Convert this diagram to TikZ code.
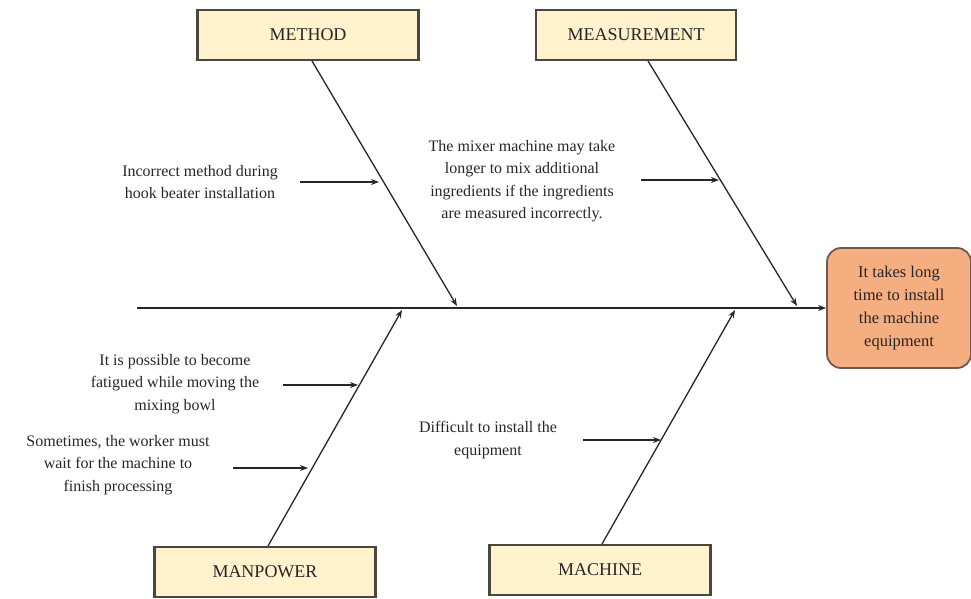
\documentclass[tikz,border=0pt]{standalone}
\usepackage{fontspec}
\setmainfont{Liberation Serif}
\usetikzlibrary{arrows.meta}
\definecolor{boxfill}{HTML}{FFF2CC}
\definecolor{boxline}{HTML}{4A4640}
\definecolor{effectfill}{HTML}{F4AE80}
\definecolor{effectline}{HTML}{6E5A4E}
\definecolor{txt}{HTML}{262626}
\begin{document}
\begin{tikzpicture}[x=1pt,y=-1pt,
  catbox/.style={draw=boxline,line width=2.2pt,fill=boxfill,minimum width=221pt,minimum height=50pt,inner sep=0pt,font=\fontsize{18}{20}\selectfont,text=txt},
  effect/.style={draw=effectline,line width=1.8pt,fill=effectfill,rounded corners=14pt,minimum width=144pt,minimum height=120pt,align=center,font=\fontsize{16.5}{23}\selectfont,text=txt},
  cause/.style={align=center,font=\fontsize{16}{22.5}\selectfont,text=txt,inner sep=0pt},
  bone/.style={draw=black!85,line width=1.3pt,-{Stealth[length=8pt,width=6pt]}},
  spine/.style={draw=black!85,line width=1.6pt,-{Stealth[length=8pt,width=6pt]}}]
\useasboundingbox (0,0) rectangle (971,599);

% effect (head of the fish)
\node[effect] (head) at (899,308) {It takes long\\time to install\\the machine\\equipment};
\coordinate (tail) at (137,308);
\draw[spine] (tail) -- (head.west);

% category boxes
\node[catbox] (method) at (308,35) {METHOD};
\node[catbox,minimum width=200pt] (measure) at (636,35) {MEASUREMENT};
\node[catbox] (manpower) at (265,572) {MANPOWER};
\node[catbox] (machine) at (600,570) {MACHINE};

% points where the bones meet the spine
\coordinate (jMethod) at (457,306);
\coordinate (jMeasure) at (797,306);
\coordinate (jManpower) at (402,310);
\coordinate (jMachine) at (735,310);

% bones from each category box to the spine
\coordinate (sMethod) at (312,61);
\draw[bone] (sMethod) -- (jMethod);
\coordinate (sMeasure) at (648,61);
\draw[bone] (sMeasure) -- (jMeasure);
\coordinate (sManpower) at (268,546);
\draw[bone] (sManpower) -- (jManpower);
\coordinate (sMachine) at (602,544);
\draw[bone] (sMachine) -- (jMachine);

% causes
\node[cause] (c1) at (200,182) {Incorrect method during\\hook beater installation};
\coordinate (c1s) at (300,182);
\coordinate (c1e) at (379,182);
\draw[bone] (c1s) -- (c1e);

\node[cause] (c2) at (522,181) {The mixer machine may take\\longer to mix additional\\ingredients if the ingredients\\are measured incorrectly.};
\coordinate (c2s) at (641,180);
\coordinate (c2e) at (719,180);
\draw[bone] (c2s) -- (c2e);

\node[cause] (c3) at (175,384) {It is possible to become\\fatigued while moving the\\mixing bowl};
\coordinate (c3s) at (283,385);
\coordinate (c3e) at (358,385);
\draw[bone] (c3s) -- (c3e);

\node[cause] (c4) at (118,465) {Sometimes, the worker must\\wait for the machine to\\finish processing};
\coordinate (c4s) at (233,468);
\coordinate (c4e) at (308,468);
\draw[bone] (c4s) -- (c4e);

\node[cause] (c5) at (488,440) {Difficult to install the\\equipment};
\coordinate (c5s) at (583,440);
\coordinate (c5e) at (661,440);
\draw[bone] (c5s) -- (c5e);
\end{tikzpicture}
\end{document}
